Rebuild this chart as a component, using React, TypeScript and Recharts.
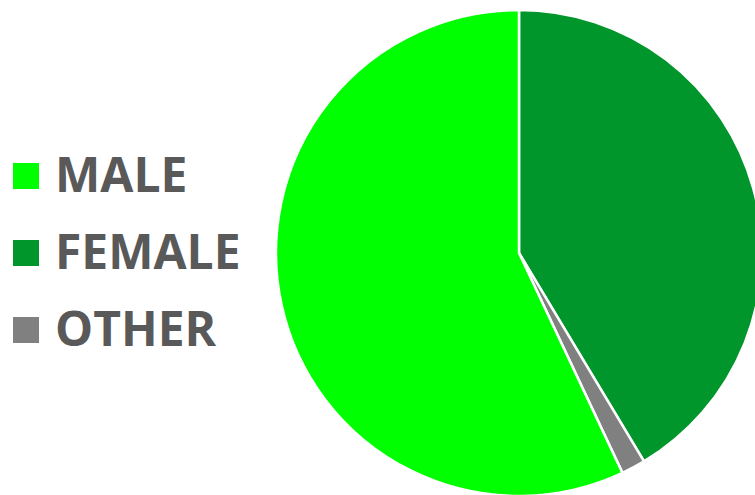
import React from 'react';
import { PieChart, Pie, Cell, Legend } from 'recharts';

// legend order (as shown in the reference)
const categories = ['MALE', 'FEMALE', 'OTHER'];
const shares = [57.0, 41.4, 1.6];
const colors = ['#00FF00', '#00962B', '#808080'];

// drawn clockwise from 12 o'clock: FEMALE, OTHER, MALE
const pieOrder = ['FEMALE', 'OTHER', 'MALE'];

const legendItems = categories.map((name, i) => ({ name, color: colors[i] }));

const pieData = pieOrder.map((name) => {
  const i = categories.indexOf(name);
  return { name, value: shares[i], color: colors[i] };
});

const LegendBlock = () => (
  <svg width={260} height={495}>
    {legendItems.map((item, i) => (
      <g key={item.name}>
        <rect x={13} y={163 + i * 77} width={26} height={26} fill={item.color} />
        <text
          x={55}
          y={192 + i * 77}
          fontFamily="'Open Sans', sans-serif"
          fontWeight={700}
          fontSize={48}
          fill="#595959"
        >
          {item.name}
        </text>
      </g>
    ))}
  </svg>
);

export default function App() {
  return (
    <div style={{ position: 'absolute', left: 0, top: 0, width: 755, height: 495, background: '#fff' }}>
      <PieChart width={755} height={495} margin={{ top: 0, right: 0, bottom: 0, left: 0 }}>
        <Pie
          data={pieData}
          dataKey="value"
          nameKey="name"
          cx={519}
          cy={253}
          outerRadius={243}
          startAngle={90}
          endAngle={-270}
          stroke="#ffffff"
          strokeWidth={2.5}
          isAnimationActive={false}
        >
          {pieData.map((d) => (
            <Cell key={d.name} fill={d.color} />
          ))}
        </Pie>
        <Legend
          content={<LegendBlock />}
          wrapperStyle={{ position: 'absolute', left: 0, top: 0, width: 260, height: 495 }}
        />
      </PieChart>
    </div>
  );
}
